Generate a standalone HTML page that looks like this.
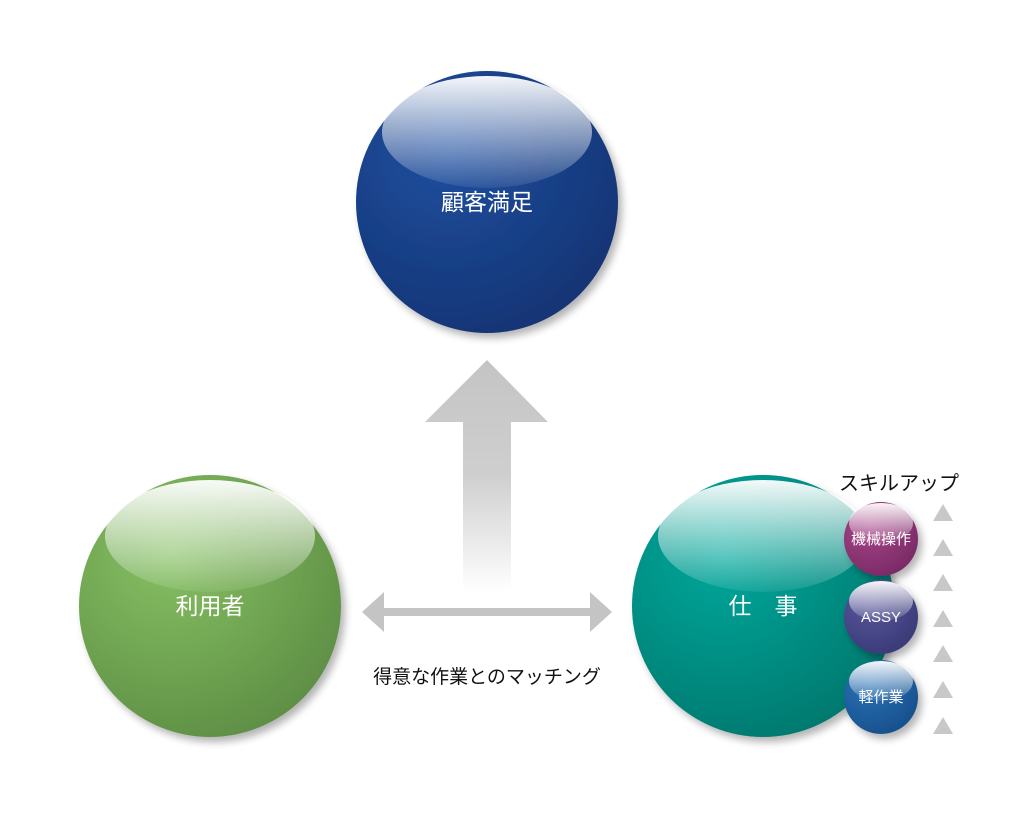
<!DOCTYPE html>
<html><head><meta charset="utf-8"><style>
body{margin:0;background:#fff;}
svg text{font-family:"Liberation Sans","Noto Sans CJK JP",sans-serif;}
</style></head><body>
<svg width="1024" height="811" viewBox="0 0 1024 811" xmlns="http://www.w3.org/2000/svg">
<defs>
<filter id="sh" x="-20%" y="-20%" width="150%" height="150%"><feGaussianBlur in="SourceAlpha" stdDeviation="4"/><feOffset dx="4" dy="5"/><feComponentTransfer><feFuncA type="linear" slope="0.3"/></feComponentTransfer><feMerge><feMergeNode/><feMergeNode in="SourceGraphic"/></feMerge></filter>
<radialGradient id="gb" cx="35%" cy="30%" r="75%"><stop offset="0" stop-color="#1f4fa0"/><stop offset="1" stop-color="#143474"/></radialGradient>
<radialGradient id="gg" cx="35%" cy="30%" r="75%"><stop offset="0" stop-color="#86c063"/><stop offset="1" stop-color="#5f8f45"/></radialGradient>
<radialGradient id="gt" cx="35%" cy="30%" r="75%"><stop offset="0" stop-color="#00a89c"/><stop offset="1" stop-color="#00796f"/></radialGradient>
<radialGradient id="gp" cx="35%" cy="30%" r="75%"><stop offset="0" stop-color="#a8458a"/><stop offset="1" stop-color="#7a2a66"/></radialGradient>
<radialGradient id="gv" cx="35%" cy="30%" r="75%"><stop offset="0" stop-color="#58579c"/><stop offset="1" stop-color="#3a3a78"/></radialGradient>
<radialGradient id="gs" cx="35%" cy="30%" r="75%"><stop offset="0" stop-color="#2a73b8"/><stop offset="1" stop-color="#17508c"/></radialGradient>
<linearGradient id="hb" x1="0" y1="0" x2="0" y2="1"><stop offset="0" stop-color="#fff" stop-opacity="0.95"/><stop offset="1" stop-color="#fff" stop-opacity="0.08"/></linearGradient>
<linearGradient id="shaft" x1="0" y1="0" x2="0" y2="1"><stop offset="0" stop-color="#c4c4c4"/><stop offset="0.5" stop-color="#cfcfcf"/><stop offset="1" stop-color="#fff"/></linearGradient>
</defs>
<polygon points="487,360 548,422 511,422 511,592 463,592 463,422 425,422" fill="url(#shaft)"/>
<polygon points="362,612 384,592 384,608 590,608 590,592 612,612 590,632 590,616 384,616 384,632" fill="#c4c4c4"/>
<g filter="url(#sh)">
<circle cx="487" cy="202" r="131" fill="url(#gb)"/>
<circle cx="210" cy="606" r="131" fill="url(#gg)"/>
<circle cx="763" cy="606" r="131" fill="url(#gt)"/>
</g>
<ellipse cx="487" cy="132" rx="105" ry="56" fill="url(#hb)"/>
<ellipse cx="210" cy="536" rx="105" ry="56" fill="url(#hb)"/>
<ellipse cx="763" cy="536" rx="105" ry="56" fill="url(#hb)"/>
<text x="487" y="210" font-size="23" fill="#fff" text-anchor="middle">顧客満足</text>
<text x="210" y="614" font-size="23" fill="#fff" text-anchor="middle">利用者</text>
<text x="763" y="614" font-size="23" fill="#fff" text-anchor="middle">仕　事</text>
<g filter="url(#sh)">
<circle cx="881" cy="539" r="37" fill="url(#gp)"/>
<circle cx="881" cy="617" r="37" fill="url(#gv)"/>
<circle cx="881" cy="697" r="37" fill="url(#gs)"/>
</g>
<ellipse cx="881" cy="523" rx="32" ry="20" fill="url(#hb)"/>
<ellipse cx="881" cy="601" rx="32" ry="20" fill="url(#hb)"/>
<ellipse cx="881" cy="681" rx="32" ry="20" fill="url(#hb)"/>
<text x="881" y="544" font-size="15" fill="#fff" text-anchor="middle">機械操作</text>
<text x="881" y="622" font-size="15" fill="#fff" text-anchor="middle">ASSY</text>
<text x="881" y="702" font-size="15" fill="#fff" text-anchor="middle">軽作業</text>
<g fill="#c8c8c8">
<polygon points="943,504 953,521 933,521"/>
<polygon points="943,539 953,556 933,556"/>
<polygon points="943,574 953,591 933,591"/>
<polygon points="943,610 953,627 933,627"/>
<polygon points="943,645 953,662 933,662"/>
<polygon points="943,681 953,698 933,698"/>
<polygon points="943,717 953,734 933,734"/>
</g>
<text x="899" y="490" font-size="20" fill="#111" text-anchor="middle">スキルアップ</text>
<text x="487" y="683" font-size="19" fill="#111" text-anchor="middle">得意な作業とのマッチング</text>
</svg>
</body></html>
